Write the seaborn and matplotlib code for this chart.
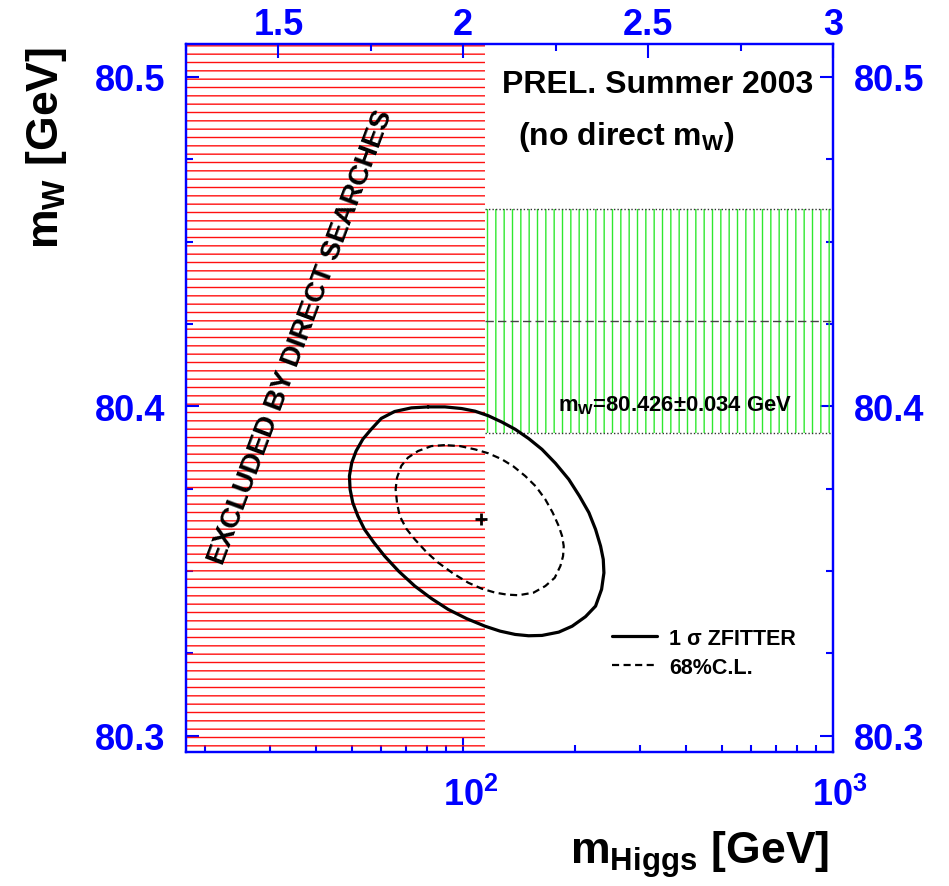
import numpy as np
import matplotlib
matplotlib.use("Agg")
import matplotlib.pyplot as plt
import matplotlib.transforms as mtransforms
from matplotlib.ticker import MultipleLocator, LogLocator, FuncFormatter, NullFormatter
import seaborn as sns

# ---------------------------------------------------------------- data
# plotted ranges
mh_range = [10 ** 1.25, 1000.0]      # Higgs mass, GeV
mw_range = [80.295, 80.510]          # W mass, GeV

# LEP direct-search lower bound on m_H (GeV)
mh_excluded_limit = 114.4

# direct W mass measurement
mw_direct = 80.426
mw_direct_err = 0.034

# best-fit point
fit_mh = [112.0]
fit_mw = [80.3657]

# 1 sigma ZFITTER contour, log10(m_H / GeV) and m_W (GeV)
sigma_log_mh = [1.9049, 1.8596, 1.8143, 1.7781, 1.7509, 1.7283, 1.7101,
                1.6984, 1.6920, 1.6938, 1.7011, 1.7147, 1.7328, 1.7582,
                1.7871, 1.8252, 1.8687, 1.9139, 1.9592, 2.0091, 2.0589,
                2.0996, 2.1404, 2.1766, 2.2129, 2.2582, 2.2944, 2.3306,
                2.3578, 2.3741, 2.3804, 2.3786, 2.3714, 2.3578, 2.3397,
                2.3143, 2.2853, 2.2491, 2.2129, 2.1766, 2.1404, 2.1042,
                2.0679, 2.0317, 1.9955, 1.9502, 1.9049]
sigma_mw = [80.3998, 80.3995, 80.3984, 80.3963, 80.3930, 80.3900, 80.3864,
            80.3829, 80.3788, 80.3748, 80.3707, 80.3667, 80.3626, 80.3586,
            80.3545, 80.3499, 80.3454, 80.3416, 80.3383, 80.3355, 80.3332,
            80.3317, 80.3307, 80.3303, 80.3304, 80.3314, 80.3332, 80.3361,
            80.3393, 80.3444, 80.3494, 80.3535, 80.3575, 80.3626, 80.3677,
            80.3727, 80.3778, 80.3827, 80.3869, 80.3902, 80.3930, 80.3952,
            80.3971, 80.3985, 80.3993, 80.3998, 80.3998]

# 68% C.L. contour, log10(m_H / GeV) and m_W (GeV)
cl68_log_mh = [1.9502, 1.9139, 1.8777, 1.8505, 1.8324, 1.8207, 1.8170,
               1.8207, 1.8279, 1.8460, 1.8687, 1.9004, 1.9321, 1.9728,
               2.0136, 2.0498, 2.0861, 2.1177, 2.1495, 2.1902, 2.2219,
               2.2473, 2.2627, 2.2699, 2.2717, 2.2672, 2.2582, 2.2418,
               2.2219, 2.1966, 2.1676, 2.1359, 2.1042, 2.0679, 2.0317,
               1.9909, 1.9502]
cl68_mw = [80.3882, 80.3879, 80.3864, 80.3844, 80.3819, 80.3783, 80.3748,
           80.3707, 80.3667, 80.3628, 80.3596, 80.3557, 80.3525, 80.3492,
           80.3464, 80.3446, 80.3434, 80.3428, 80.3426, 80.3434, 80.3454,
           80.3479, 80.3515, 80.3545, 80.3575, 80.3606, 80.3636, 80.3677,
           80.3717, 80.3756, 80.3788, 80.3817, 80.3839, 80.3857, 80.3869,
           80.3879, 80.3882]

y_tick_step = 0.1
top_tick_step = 0.5
label_sigma = "1 σ ZFITTER"
label_cl68 = "68%C.L."

sigma_mh = 10 ** np.asarray(sigma_log_mh)
cl68_mh = 10 ** np.asarray(cl68_log_mh)

# ---------------------------------------------------------------- style
sns.set_theme(style="ticks")
plt.rcParams["font.family"] = ["Liberation Sans", "DejaVu Sans"]
plt.rcParams["font.weight"] = "bold"
plt.rcParams["text.color"] = "black"
plt.rcParams["mathtext.fontset"] = "custom"
plt.rcParams["mathtext.rm"] = "Liberation Sans"
plt.rcParams["mathtext.bf"] = "Liberation Sans:bold"
plt.rcParams["mathtext.it"] = "Liberation Sans:italic"
plt.rcParams["hatch.linewidth"] = 1.0

BLUE = "#0000ff"
RED = "#ff1010"
GREEN = "#2fe82f"

fig = plt.figure(figsize=(9.49, 8.87), dpi=100)
fig.patch.set_facecolor("white")
ax = fig.add_axes([186 / 949, 1 - 753 / 887, 647 / 949, 708 / 887])
ax.set_facecolor("white")
ax.set_xscale("log")
ax.set_xlim(mh_range)
ax.set_ylim(mw_range)

# excluded region (hatched red)
ax.axvspan(mh_range[0], mh_excluded_limit, facecolor="none", edgecolor=RED,
           hatch="--", linewidth=0, zorder=1)

# direct m_W band (hatched green) with its edges and central value
band_x = [mh_excluded_limit, mh_range[1]]
ax.fill_between(band_x, mw_direct - mw_direct_err, mw_direct + mw_direct_err,
                facecolor="none", edgecolor=GREEN, hatch="||", linewidth=0,
                zorder=1)
ax.hlines([mw_direct - mw_direct_err, mw_direct + mw_direct_err],
          band_x[0], band_x[1], colors="#333333", linestyles=(0, (1, 1.5)),
          linewidth=1.0, zorder=2)
ax.hlines(mw_direct, band_x[0], band_x[1], colors="#444444",
          linestyles=(0, (6, 3)), linewidth=1.0, zorder=2)

# contours
sns.lineplot(x=sigma_mh, y=sigma_mw, sort=False, estimator=None, ax=ax,
             color="black", linewidth=2.3, label=label_sigma, zorder=4,
             solid_joinstyle="round")
sns.lineplot(x=cl68_mh, y=cl68_mw, sort=False, estimator=None, ax=ax,
             color="black", linewidth=1.6, linestyle=(0, (3.2, 2.0)),
             label=label_cl68, zorder=4)
sns.scatterplot(x=fit_mh, y=fit_mw, ax=ax, marker="+", s=70, color="black",
                linewidth=2.0, zorder=5, legend=False)

# legend
handles, labels = ax.get_legend_handles_labels()
ax.legend(handles, labels, loc="upper left",
          bbox_to_anchor=((612 - 186) / 647, (753 - 629) / 708),
          frameon=False, borderpad=0, borderaxespad=0,
          handlelength=2.1, handletextpad=0.55, labelspacing=0.36,
          labelcolor="black", prop={"weight": "bold", "size": 15.5})

# annotations
ax.text((502 - 186) / 647, (753 - 93) / 708, "PREL. Summer 2003",
        transform=ax.transAxes, fontsize=23, fontweight="bold",
        ha="left", va="baseline", color="black")
ax.text((518 - 186) / 647, (753 - 145) / 708, r"(no direct $\mathbf{m_{W}}$)",
        transform=ax.transAxes, fontsize=23, fontweight="bold",
        ha="left", va="baseline", color="black")
ax.text((558 - 186) / 647, (753 - 411) / 708,
        r"$\mathbf{m_{W}}$=80.426±0.034 GeV",
        transform=ax.transAxes, fontsize=15.8, fontweight="bold",
        ha="left", va="baseline", color="black", zorder=6)
ax.text((301 - 186) / 647, (753 - 337) / 708, "EXCLUDED BY DIRECT SEARCHES",
        transform=ax.transAxes, fontsize=20.5, fontweight="bold",
        ha="center", va="center", rotation=69.5, rotation_mode="anchor",
        color="black", zorder=6)

# axis labels
ax.set_xlabel(r"$\mathbf{m_{Higgs}}\ [\mathbf{GeV}]$", fontsize=32,
              color="black", ha="center", va="center")
ax.xaxis.set_label_coords((700 - 186) / 647, (753 - 855) / 708)
ax.set_ylabel(r"$\mathbf{m_{W}}\ [\mathbf{GeV}]$", fontsize=32,
              color="black", rotation=90, ha="center", va="center")
ax.yaxis.set_label_coords((46 - 186) / 647, (753 - 148) / 708)

# top axis in log10(m_H)
ax2 = ax.twiny()
ax2.set_xlim(np.log10(mh_range))
ax2.xaxis.set_major_locator(MultipleLocator(top_tick_step))
ax2.xaxis.set_minor_locator(MultipleLocator(top_tick_step / 2))
ax2.xaxis.set_major_formatter(FuncFormatter(lambda v, p: f"{v:g}"))
ax2.tick_params(axis="x", which="both", direction="in", top=True,
                bottom=False, labeltop=True, labelbottom=False, color=BLUE,
                labelcolor=BLUE, width=1.5)
ax2.tick_params(axis="x", which="major", length=10, labelsize=26, pad=1.5)
ax2.tick_params(axis="x", which="minor", length=5)

# bottom log axis
ax.xaxis.set_major_locator(LogLocator(base=10))
ax.xaxis.set_minor_locator(LogLocator(base=10, subs=np.arange(2, 10)))
ax.xaxis.set_major_formatter(
    FuncFormatter(lambda v, p: r"$\mathbf{10^{%d}}$" % round(np.log10(v))))
ax.xaxis.set_minor_formatter(NullFormatter())
ax.tick_params(axis="x", which="both", direction="in", bottom=True,
               top=False, color=BLUE, labelcolor=BLUE, width=1.5)
ax.tick_params(axis="x", which="major", length=10, labelsize=26, pad=18)
ax.tick_params(axis="x", which="minor", length=5)
shift = mtransforms.ScaledTranslation(7 / 100, 0, fig.dpi_scale_trans)
for lab in ax.get_xticklabels():
    lab.set_transform(lab.get_transform() + shift)

# left and right m_W axes
ax.yaxis.set_major_locator(MultipleLocator(y_tick_step))
ax.yaxis.set_minor_locator(MultipleLocator(y_tick_step / 4))
ax.yaxis.set_major_formatter(FuncFormatter(lambda v, p: f"{v:.1f}"))
ax.tick_params(axis="y", which="both", direction="in", left=True,
               right=True, labelleft=True, labelright=True, color=BLUE,
               labelcolor=BLUE, width=1.5)
ax.tick_params(axis="y", which="major", length=9.5, labelsize=26, pad=15)
ax.tick_params(axis="y", which="minor", length=4.7)

for a in (ax, ax2):
    for s in a.spines.values():
        s.set_color(BLUE)
        s.set_linewidth(1.6)
        s.set_visible(True)
        s.set_zorder(10)

fig.savefig("out.png", dpi=100, facecolor="white")
